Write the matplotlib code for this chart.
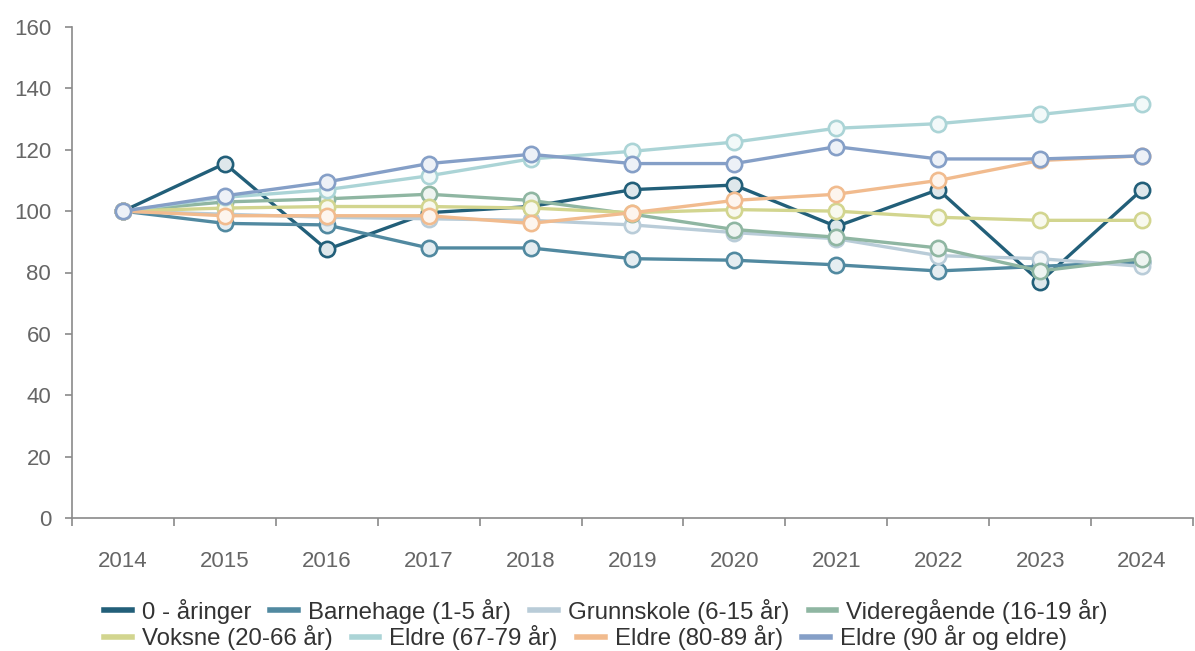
import matplotlib
matplotlib.use("Agg")
import matplotlib.pyplot as plt
from matplotlib.lines import Line2D
from matplotlib.colors import to_rgb

plt.rcParams['font.family'] = ['Liberation Sans', 'DejaVu Sans']

years = [2014, 2015, 2016, 2017, 2018, 2019, 2020, 2021, 2022, 2023, 2024]

series_names = [
    "0 - åringer",
    "Barnehage (1-5 år)",
    "Grunnskole (6-15 år)",
    "Videregående (16-19 år)",
    "Voksne (20-66 år)",
    "Eldre (67-79 år)",
    "Eldre (80-89 år)",
    "Eldre (90 år og eldre)",
]

aringer = [100, 115.5, 87.5, 99.5, 101.5, 107, 108.5, 95, 107, 77, 107]
barnehage = [100, 96, 95.5, 88, 88, 84.5, 84, 82.5, 80.5, 82, 83.5]
grunnskole = [100, 99, 98, 97.5, 97, 95.5, 93, 91, 85.5, 84.5, 82]
videregaende = [100, 103, 104, 105.5, 103.5, 99, 94, 91.5, 88, 80.5, 84.5]
voksne = [100, 101, 101.5, 101.5, 101, 99.5, 100.5, 100, 98, 97, 97]
eldre_67_79 = [100, 104.5, 107, 111.5, 117, 119.5, 122.5, 127, 128.5, 131.5, 135]
eldre_80_89 = [100, 98.5, 98.5, 98.5, 96, 99.5, 103.5, 105.5, 110, 116.5, 118]
eldre_90 = [100, 105, 109.5, 115.5, 118.5, 115.5, 115.5, 121, 117, 117, 118]

all_values = [aringer, barnehage, grunnskole, videregaende, voksne,
              eldre_67_79, eldre_80_89, eldre_90]

colors = ["#225f79", "#5189a0", "#b9ccd8", "#8fb6a2",
          "#d2d58f", "#abd4d6", "#f1bb8e", "#859fc7"]


def lighten(c, f=0.85):
    r, g, b = to_rgb(c)
    return (r + (1 - r) * f, g + (1 - g) * f, b + (1 - b) * f)


fig = plt.figure(figsize=(11.95, 6.51), dpi=100)
ax = fig.add_axes([72 / 1195, 1 - 518 / 651, 1121 / 1195, (518 - 27) / 651])

for i, (name, vals, col) in enumerate(zip(series_names, all_values, colors)):
    ax.plot(years, vals, color=col, lw=2.4, marker='o', markersize=11,
            markerfacecolor=lighten(col), markeredgecolor=col,
            markeredgewidth=1.9, zorder=2 + i, label=name,
            solid_joinstyle='round')

ax.set_xlim(2013.5, 2024.5)
ax.set_ylim(0, 160)
ax.set_yticks(range(0, 161, 20))
ax.set_xticks(years)
ax.set_xticks([y - 0.5 for y in years] + [2024.5], minor=True)

for s in ['top', 'right']:
    ax.spines[s].set_visible(False)
for s in ['left', 'bottom']:
    ax.spines[s].set_color('#8a8a8a')
    ax.spines[s].set_linewidth(1.2)

ax.tick_params(axis='x', which='major', length=0, pad=24, labelsize=16,
               labelcolor='#666666')
ax.tick_params(axis='x', which='minor', length=6, width=1.2, color='#8a8a8a')
ax.tick_params(axis='y', length=5, width=1.2, color='#8a8a8a', pad=10,
               labelsize=16, labelcolor='#666666')

row1 = [Line2D([0], [0], color=c, lw=4) for c in colors[:4]]
row2 = [Line2D([0], [0], color=c, lw=4) for c in colors[4:]]

leg_kw = dict(ncol=4, frameon=False, fontsize=17.3, handlelength=1.15,
              handletextpad=0.42, columnspacing=0.8, borderpad=0,
              borderaxespad=0, labelcolor='#333333', loc='center left')
l1 = fig.legend(row1, series_names[:4], bbox_to_anchor=(104 / 1195, 1 - 611 / 651), **leg_kw)
l2 = fig.legend(row2, series_names[4:], bbox_to_anchor=(104 / 1195, 1 - 638 / 651), **leg_kw)

fig.savefig("out.png", dpi=100)
